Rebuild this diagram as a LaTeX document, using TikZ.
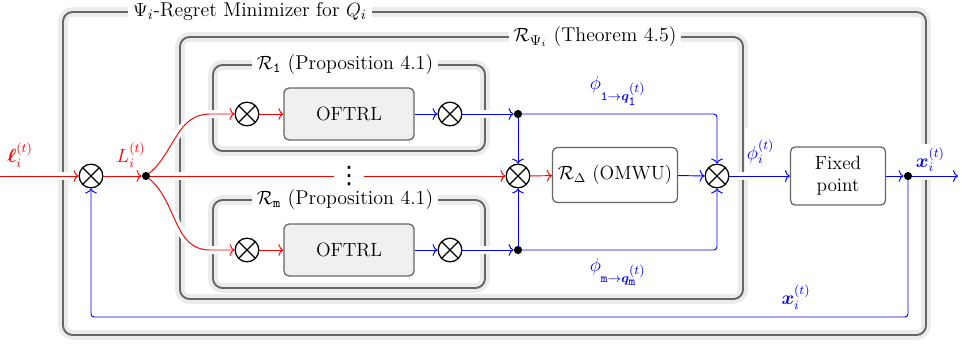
\documentclass[tikz,border=0pt]{standalone}
\usepackage{amsmath,bm}
\usepackage{fontspec}
\newfontfamily\dotsfont{DejaVu Sans}
\usetikzlibrary{arrows.meta}

\pgfdeclarelayer{frames}
\pgfdeclarelayer{gaps}
\pgfsetlayers{frames,gaps,main}

\tikzset{
  frame/.style={draw=black!60, line width=1.2pt, rounded corners=6pt,
    preaction={draw=black!8, line width=6pt}},
  frametitle/.style={fill=white, inner sep=3pt, font=\fontsize{12.5}{14}\selectfont},
  mixer/.style={circle, draw, line width=0.8pt, minimum size=0.52cm, inner sep=0pt,
    path picture={\draw[line width=0.8pt]
      (path picture bounding box.north west) -- (path picture bounding box.south east)
      (path picture bounding box.north east) -- (path picture bounding box.south west);}},
  junction/.style={circle, fill, inner sep=0pt, minimum size=0.18cm},
  learner/.style={draw=black!60, fill=black!6, rounded corners=3pt, line width=0.8pt,
    minimum width=2.86cm, minimum height=1.14cm},
  block/.style={draw=black!60, fill=white, rounded corners=3pt, line width=0.8pt, align=center},
  loss/.style={red, line width=0.6pt},
  strat/.style={blue, line width=0.6pt},
  gap/.style={white, line width=5pt},
  sigtext/.style={fill=white, inner sep=1pt}
}
\newcommand{\phisub}[1]{\phi_{\mathtt{#1}\to\bm{q}_{\scriptstyle\mathtt{#1}}^{\scriptstyle(t)}}}

\begin{document}
\begin{tikzpicture}[
      x=0.022cm, y=-0.022cm,
      every node/.style={font=\fontsize{12}{14}\selectfont},
      >={To[length=1.1mm, width=2.6mm]}
    ]
    \useasboundingbox (0,0) rectangle (962,345);

    \node[mixer] (mixL) at (91,176) {};
    \node[junction] (split) at (146,176) {};
    \node[mixer] (mixA1) at (247,114) {};
    \node[learner] (oftrl1) at (349,114) {OFTRL};
    \node[mixer] (mixB1) at (450,114) {};
    \node[mixer] (mixAm) at (247,250) {};
    \node[learner] (oftrlm) at (349,250) {OFTRL};
    \node[mixer] (mixBm) at (450,250) {};
    \node[fill=white, inner xsep=2pt, inner ysep=0pt, font=\dotsfont\fontsize{15}{15}\selectfont] (dots) at (349,176) {⋮};
    \node[junction] (fork1) at (518,114) {};
    \node[junction] (forkm) at (518,250) {};
    \node[mixer] (mixC) at (518,176) {};
    \node[block, minimum width=2.7cm, minimum height=1.21cm] (omwu) at (615,175) {$\mathcal{R}_\Delta$ (OMWU)};
    \node[mixer] (mixR) at (717,176) {};
    \node[block, minimum width=2.09cm, minimum height=1.28cm] (fixed) at (838,176) {Fixed\\point};
    \node[junction] (fork) at (908,176) {};
    \coordinate (in) at (0,176);
    \coordinate (out) at (958,176);
    \coordinate (back) at (908,317);
    \coordinate (bend1) at (210,114);
    \coordinate (bendm) at (210,250);

    \begin{pgfonlayer}{frames}
      \draw[frame] (63,12) rectangle (926,335);
      \draw[frame] (180,37) rectangle (743,299);
      \draw[frame] (213,65) rectangle (485,151);
      \draw[frame] (213,200) rectangle (485,288);
      \node[frametitle] (tOuter) at (250,12) {$\Psi_i$-Regret Minimizer for $Q_i$};
      \node[frametitle] (tPsi) at (595,37) {$\mathcal{R}_{\Psi_i}$ (Theorem 4.5)};
      \node[frametitle] (tOne) at (345,65) {$\mathcal{R}_{\mathtt{1}}$ (Proposition 4.1)};
      \node[frametitle] (tM) at (345,200) {$\mathcal{R}_{\mathtt{m}}$ (Proposition 4.1)};
    \end{pgfonlayer}

    % white cuts where a signal crosses a frame
    \begin{pgfonlayer}{gaps}
      \draw[gap] (in) -- (mixL);
      \draw[gap] (split) to[out=40, in=180] (bend1) -- (mixA1);
      \draw[gap] (split) to[out=-40, in=180] (bendm) -- (mixAm);
      \draw[gap] (split) -- (dots);
      \draw[gap] (mixB1) -- (fork1);
      \draw[gap] (mixBm) -- (forkm);
      \draw[gap] (mixR) -- (fixed);
      \draw[gap] (fork) -- (out);
      \node[red] (lossIn) at (20,155) {$\bm{\ell}_i^{(t)}$};
      \node[red] (lossSum) at (131,155) {$L_i^{(t)}$};
      \node[blue] (phiOne) at (618,91) {$\phisub{1}$};
      \node[blue] (phiM) at (618,272) {$\phisub{m}$};
      \node[blue, sigtext, minimum height=1.05cm, anchor=south west] (phiI) at (745,176) {$\phi_i^{(t)}$};
      \node[blue, sigtext, minimum height=0.7cm, anchor=south west] (xOut) at (914,176) {$\bm{x}_i^{(t)}$};
      \node[blue] (xBack) at (796,297) {$\bm{x}_i^{(t)}$};
    \end{pgfonlayer}

    \draw[loss, ->] (in) -- (mixL);
    \draw[loss, ->] (mixL) -- (split);
    \draw[loss, ->] (split) to[out=40, in=180] (bend1) -- (mixA1);
    \draw[loss, ->] (split) to[out=-40, in=180] (bendm) -- (mixAm);
    \draw[loss] (split) -- (dots);
    \draw[loss, ->] (dots) -- (mixC);
    \draw[loss, ->] (mixA1) -- (oftrl1);
    \draw[loss, ->] (mixAm) -- (oftrlm);
    \draw[loss, ->] (mixC) -- (omwu);

    \draw[strat, ->] (oftrl1) -- (mixB1);
    \draw[strat, ->] (oftrlm) -- (mixBm);
    \draw[strat, ->] (mixB1) -- (fork1);
    \draw[strat, ->] (mixBm) -- (forkm);
    \draw[strat, ->] (fork1) -- (mixC);
    \draw[strat, ->] (forkm) -- (mixC);
    \draw[strat, ->, rounded corners=2pt] (fork1) -| (mixR);
    \draw[strat, ->, rounded corners=2pt] (forkm) -| (mixR);
    \draw[strat, ->] (omwu) -- (mixR);
    \draw[strat, ->] (mixR) -- (fixed);
    \draw[strat, ->] (fixed) -- (fork);
    \draw[strat, ->] (fork) -- (out);
    \draw[strat, ->, rounded corners=2pt] (fork) -- (back) -| (mixL);
\end{tikzpicture}
\end{document}
